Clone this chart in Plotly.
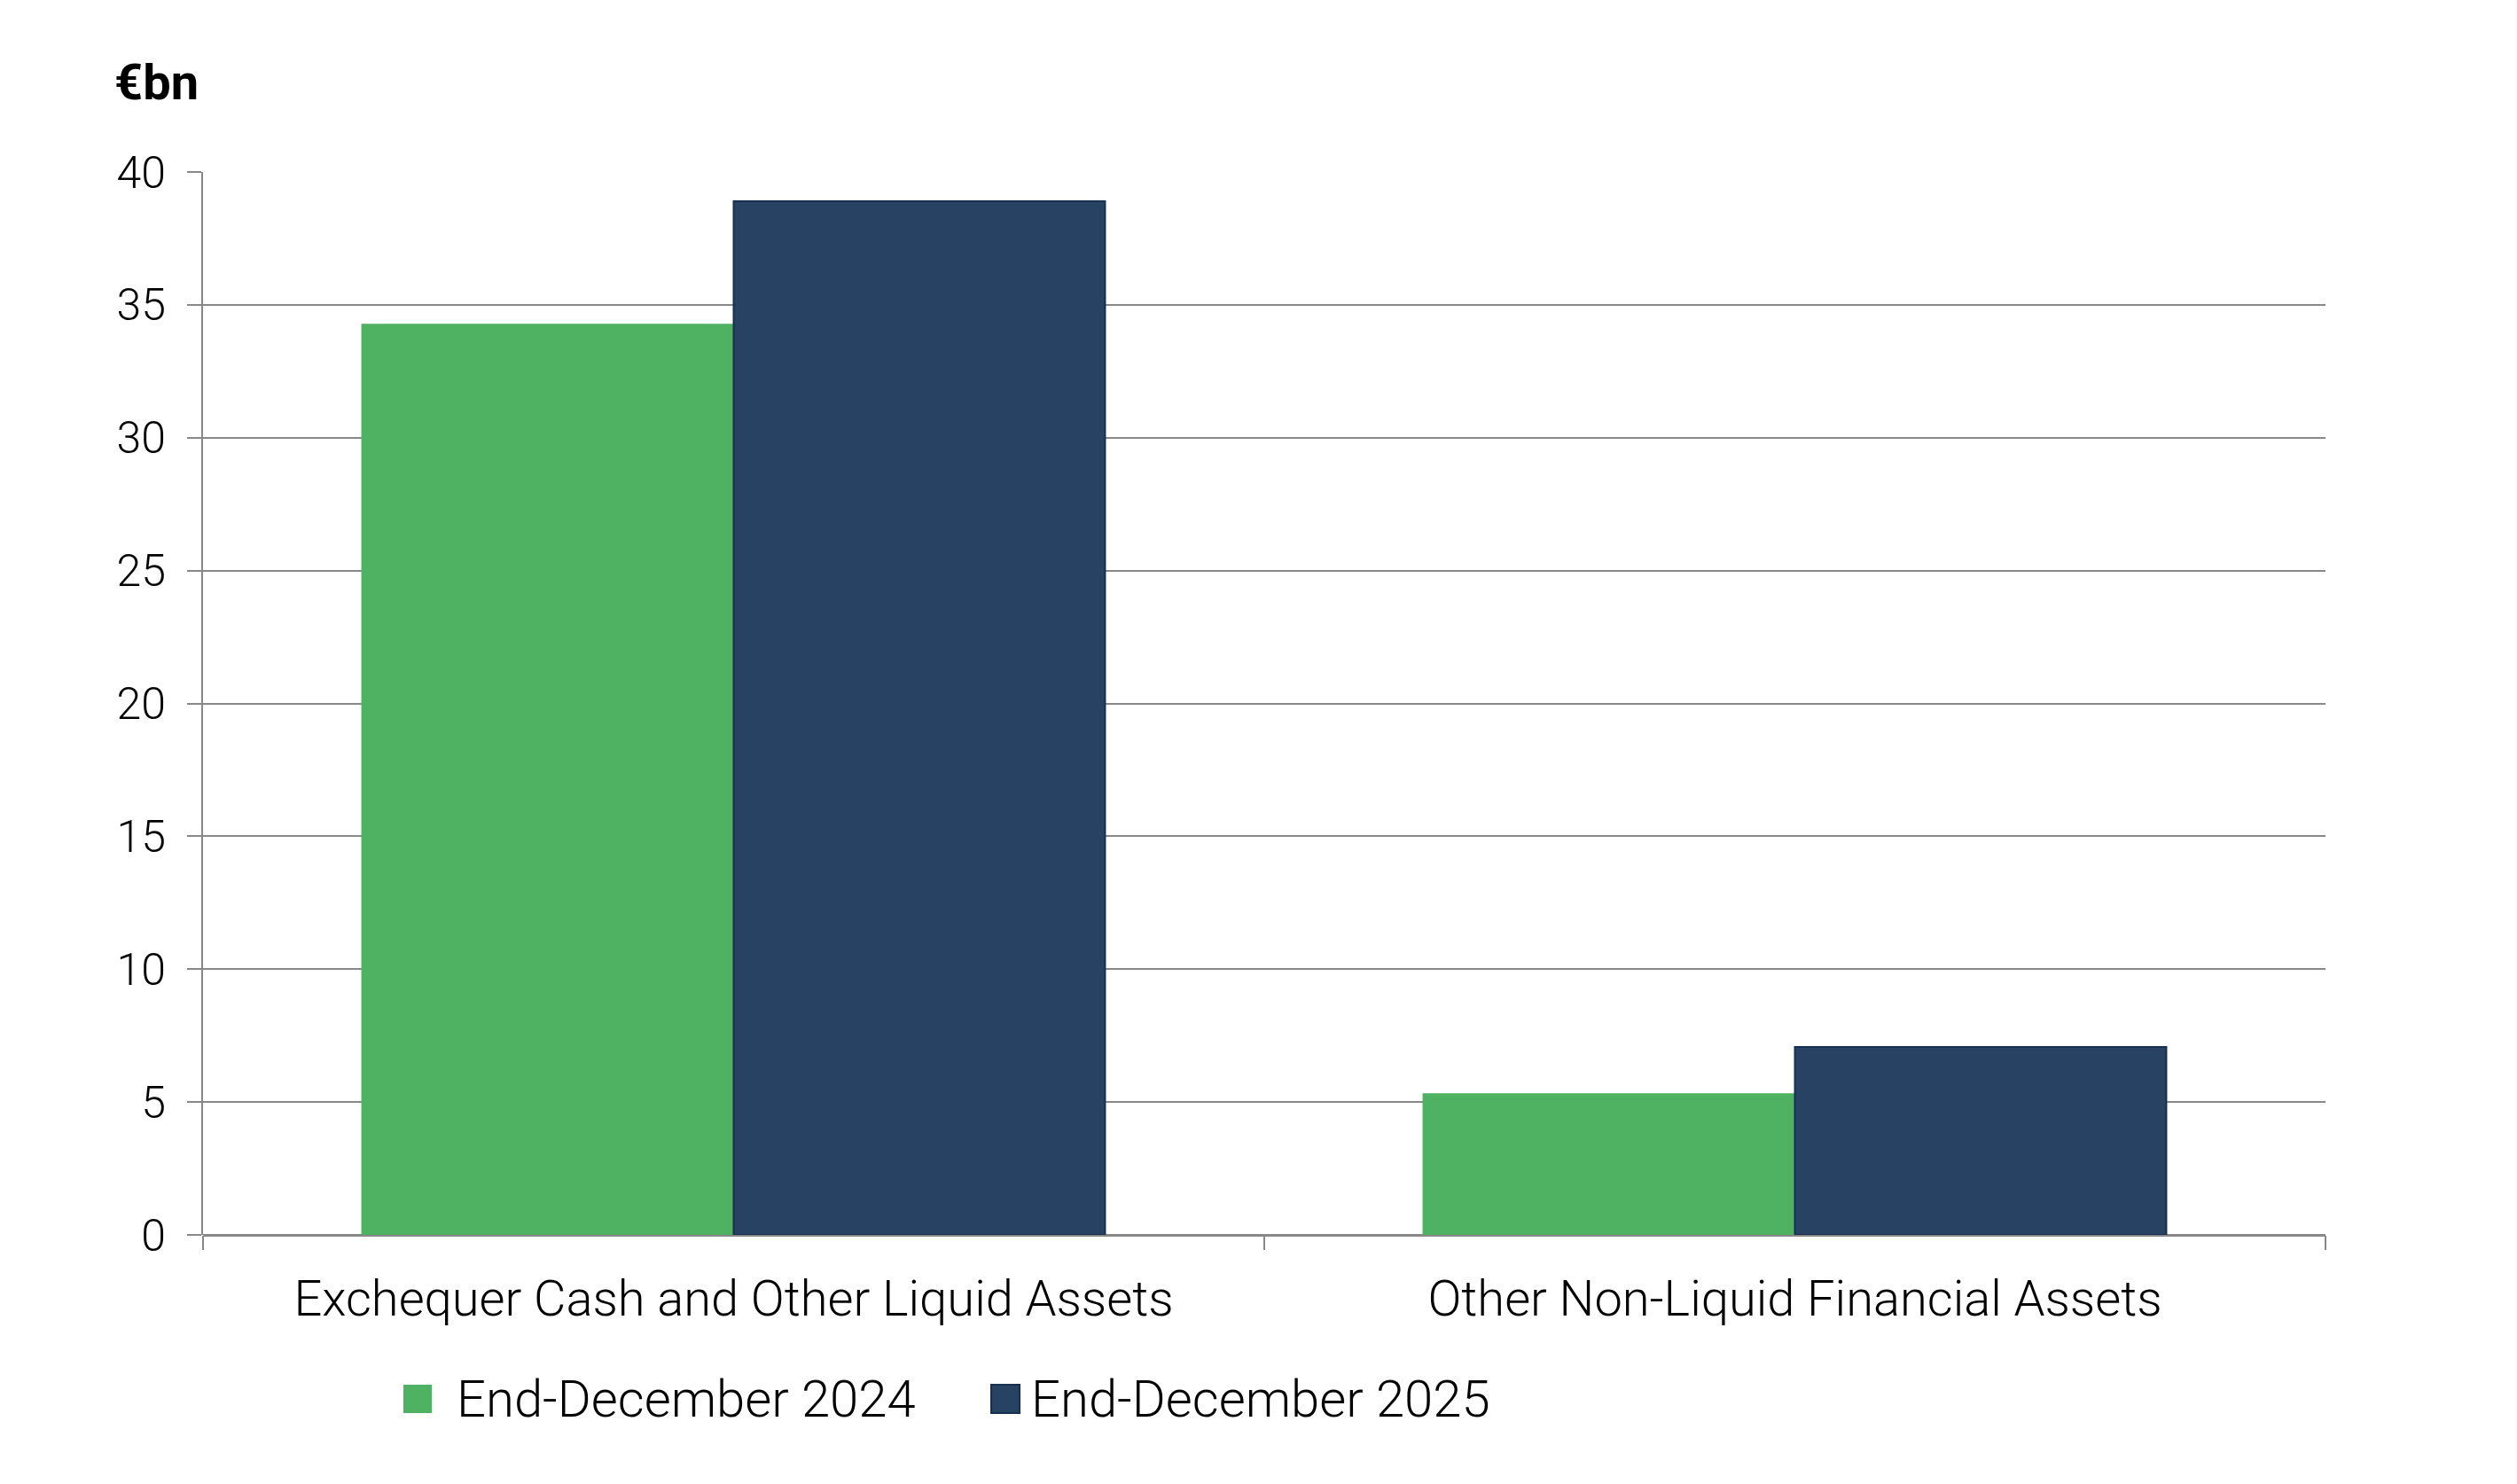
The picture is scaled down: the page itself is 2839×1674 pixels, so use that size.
import plotly.graph_objects as go

categories = ["Exchequer Cash and Other Liquid Assets", "Other Non-Liquid Financial Assets"]
series_names = ["End-December 2024", "End-December 2025"]
values_2024 = [34.25, 5.3]
values_2025 = [38.9, 7.07]
y_ticks = [0, 5, 10, 15, 20, 25, 30, 35, 40]
unit_label = "€bn"

colors = ["#4EB262", "#274263"]
outline = ["#4EB262", "#17304F"]
FONT = "Roboto"

fig = go.Figure()
for name, vals, c, oc in zip(series_names, [values_2024, values_2025], colors, outline):
    fig.add_trace(go.Bar(
        x=categories, y=vals, name=name,
        marker=dict(color=c, line=dict(color=oc, width=2)),
        showlegend=False,
    ))

W, H = 2839, 1674
L, R, T, B = 221, 224, 186, 289
pw = W - L - R
ph = H - T - B

def px_x(x):
    return (x - L) / pw

def px_y(y):
    return (H - B - y) / ph

fig.update_layout(
    width=W, height=H,
    margin=dict(l=L, r=R, t=T, b=B),
    paper_bgcolor="white", plot_bgcolor="white",
    barmode="group", bargap=0.3, bargroupgap=0,
    font=dict(family=FONT, color="#000000", size=48, weight=300),
    xaxis=dict(
        type="category", showgrid=False, showline=False,
        ticks="outside", tickson="boundaries", ticklen=16, tickwidth=2, tickcolor="#888888",
        tickfont=dict(size=56, family=FONT, weight=300), ticklabelstandoff=34,
        zeroline=False,
    ),
    yaxis=dict(
        range=[0, 40], tickvals=y_ticks, showgrid=True, gridcolor="#888888", gridwidth=2,
        showline=True, linecolor="#888888", linewidth=2,
        ticks="outside", ticklen=16, tickwidth=2, tickcolor="#888888",
        tickfont=dict(size=50, family=FONT, weight=300), ticklabelstandoff=14,
        zeroline=True, zerolinecolor="#888888", zerolinewidth=3,
    ),
)

# axis unit label
fig.add_annotation(text="<b>" + unit_label + "</b>", xref="paper", yref="paper",
                   x=px_x(119), y=px_y(85), xanchor="left", yanchor="middle",
                   showarrow=False, font=dict(size=56, family=FONT, color="#000000", weight=800))

# manual legend with larger square swatches
leg_items = [(series_names[0], colors[0], 447, 505), (series_names[1], colors[1], 1110, 1153)]
for name, c, sx, tx in leg_items:
    fig.add_shape(type="rect", xref="paper", yref="paper",
                  x0=px_x(sx), x1=px_x(sx + 32), y0=px_y(1586), y1=px_y(1554),
                  fillcolor=c, line=dict(width=0 if c == colors[0] else 2, color="#17304F"))
    fig.add_annotation(text=name, xref="paper", yref="paper",
                       x=px_x(tx), y=px_y(1570), xanchor="left", yanchor="middle",
                       showarrow=False, font=dict(size=58, family=FONT, color="#000000", weight=300))

fig.write_html("out.html")
